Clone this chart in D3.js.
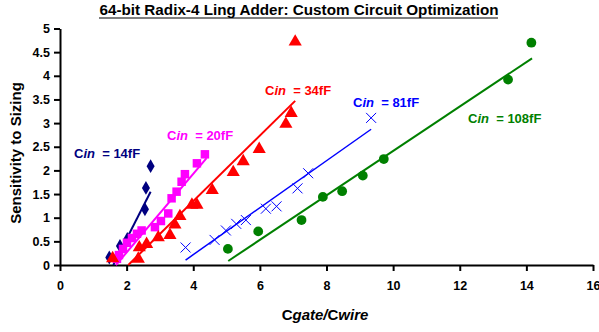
<!DOCTYPE html>
<html>
<head>
<meta charset="utf-8">
<script src="https://cdn.jsdelivr.net/npm/d3@7"></script>
<style>
	body { margin: 0; background: #fff; }
	svg { display: block; font-family: "Liberation Sans", Arial, sans-serif; }
	.axis path, .axis line { stroke: #000; stroke-width: 2; }
	.axis text { font-size: 12.5px; font-weight: bold; fill: #000; }
</style>
</head>
<body>
<div id="chart"></div>
<script>
// data
var xTicks = [0, 2, 4, 6, 8, 10, 12, 14, 16];
var yTicks = [0, 0.5, 1, 1.5, 2, 2.5, 3, 3.5, 4, 4.5, 5];

var c14X = [1.48, 1.80, 2.02, 2.55, 2.58, 2.72];
var c14Y = [0.16, 0.40, 0.55, 1.18, 1.63, 2.09];
var c14Fit = [[1.60, 0], [2.72, 1.55]];

var c20X = [1.71, 1.77, 1.89, 2.01, 2.16, 2.31, 2.45, 2.85, 3.03, 3.25, 3.35, 3.50, 3.65, 3.75, 4.11, 4.35];
var c20Y = [0.13, 0.21, 0.34, 0.47, 0.57, 0.66, 0.73, 0.80, 0.93, 1.09, 1.41, 1.55, 1.76, 1.92, 2.15, 2.34];
var c20Fit = [[1.68, 0], [4.40, 2.26]];

var c34X = [1.58, 2.35, 2.38, 2.60, 2.95, 3.30, 3.45, 3.60, 3.96, 4.11, 4.57, 5.20, 5.50, 5.98, 6.78, 6.94, 7.06];
var c34Y = [0.14, 0.13, 0.37, 0.44, 0.58, 0.63, 0.85, 1.03, 1.27, 1.27, 1.58, 1.96, 2.19, 2.45, 2.98, 3.21, 4.72];
var c34Fit = [[2.05, 0], [7.06, 3.47]];

var c81X = [3.77, 4.64, 4.98, 5.29, 5.58, 6.18, 6.50, 7.13, 7.45, 9.34];
var c81Y = [0.37, 0.53, 0.73, 0.87, 0.95, 1.19, 1.24, 1.62, 1.94, 3.11];
var c81Fit = [[3.77, 0.105], [9.34, 2.87]];

var c108X = [5.04, 5.95, 7.25, 7.89, 8.47, 9.09, 9.72, 13.45, 14.15];
var c108Y = [0.34, 0.71, 0.95, 1.44, 1.56, 1.89, 2.24, 3.92, 4.70];
var c108Fit = [[5.05, 0.085], [14.17, 4.37]];

var series = [
	{ cin: "14fF",  xs: c14X,  ys: c14Y,  fit: c14Fit,  color: "#000080", marker: "diamond",  lw: 2,   label: [74, 158] },
	{ cin: "20fF",  xs: c20X,  ys: c20Y,  fit: c20Fit,  color: "#ff00ff", marker: "square",   lw: 2,   label: [167, 140] },
	{ cin: "34fF",  xs: c34X,  ys: c34Y,  fit: c34Fit,  color: "#ff0000", marker: "triangle", lw: 2,   label: [265, 95] },
	{ cin: "81fF",  xs: c81X,  ys: c81Y,  fit: c81Fit,  color: "#0000ff", marker: "cross",    lw: 1.5, label: [353, 107] },
	{ cin: "108fF", xs: c108X, ys: c108Y, fit: c108Fit, color: "#008000", marker: "circle",   lw: 2,   label: [468, 123] }
];

var W = 599, H = 332;

var svg = d3.select("#chart").append("svg")
			.attr("width", W)
			.attr("height", H);

var x = d3.scaleLinear().domain([0, 16]).range([60, 593]);
var y = d3.scaleLinear().domain([0, 5]).range([265, 28.5]);

// title, underlined
svg.append("text")
   .attr("x", 299)
   .attr("y", 15)
   .attr("text-anchor", "middle")
   .attr("textLength", 399)
   .attr("lengthAdjust", "spacingAndGlyphs")
   .style("font-size", "14.5px")
   .style("font-weight", "bold")
   .text("64-bit Radix-4 Ling Adder: Custom Circuit Optimization");

svg.append("line")
   .attr("x1", 99).attr("x2", 498)
   .attr("y1", 18).attr("y2", 18)
   .style("stroke", "#000")
   .style("stroke-width", 1.2);

// axes
svg.append("g")
   .attr("class", "axis")
   .attr("transform", "translate(0," + y(0) + ")")
   .call(d3.axisBottom(x).tickValues(xTicks).tickSize(6).tickPadding(8).tickSizeOuter(0))
   .call(g => g.selectAll("text").attr("dy", "0.9em"));

svg.append("g")
   .attr("class", "axis")
   .attr("transform", "translate(" + x(0) + ",0)")
   .call(d3.axisLeft(y).tickValues(yTicks).tickSize(6).tickPadding(4).tickSizeOuter(0)
		   .tickFormat(d => String(d)));

// axis titles
svg.append("text")
   .attr("transform", "translate(21,153) rotate(-90)")
   .attr("text-anchor", "middle")
   .style("font-size", "15px")
   .style("font-weight", "bold")
   .text("Sensitivity to Sizing");

var xl = svg.append("text")
			.attr("x", 325)
			.attr("y", 320)
			.attr("text-anchor", "middle")
			.style("font-size", "15px")
			.style("font-weight", "bold");

xl.append("tspan").text("C");
xl.append("tspan").style("font-style", "italic").text("gate");
xl.append("tspan").style("font-style", "italic").text("/");
xl.append("tspan").text("C");
xl.append("tspan").style("font-style", "italic").text("wire");

// markers
var symbols = {
	diamond : d3.symbol().type(d3.symbolDiamond).size(56),
	square : d3.symbol().type(d3.symbolSquare).size(72),
	triangle : d3.symbol().type(d3.symbolTriangle).size(75),
	circle : d3.symbol().type(d3.symbolCircle).size(75)
};

var plot = svg.append("g");

series.forEach(function(s) {
	var pts = s.xs.map(function(v, i) { return { x: v, y: s.ys[i] }; });
	var g = plot.append("g");

	g.selectAll(".pt")
	 .data(pts)
	 .enter().each(function(d) {
		var sel = d3.select(this);
		if (s.marker == "cross") {
			sel.append("path")
			   .attr("d", "M-5,-5L5,5M-5,5L5,-5")
			   .attr("transform", "translate(" + x(d.x) + "," + y(d.y) + ")")
			   .style("stroke", s.color)
			   .style("stroke-width", 1)
			   .style("fill", "none");
		}
		else {
			sel.append("path")
			   .attr("d", symbols[s.marker]())
			   .attr("transform", "translate(" + x(d.x) + "," + y(d.y) + ")")
			   .style("fill", s.color);
		}
	 });

	g.append("path")
	 .attr("d", d3.line().x(d => x(d[0])).y(d => y(d[1]))(s.fit))
	 .style("stroke", s.color)
	 .style("stroke-width", s.lw)
	 .style("fill", "none");

	var t = svg.append("text")
			   .attr("x", s.label[0])
			   .attr("y", s.label[1])
			   .style("font-size", "13px")
			   .style("font-weight", "bold")
			   .style("fill", s.color);

	t.append("tspan").text("C");
	t.append("tspan").style("font-style", "italic").text("in");
	t.append("tspan").text("\u00a0\u00a0= " + s.cin);
});
</script>
</body>
</html>
